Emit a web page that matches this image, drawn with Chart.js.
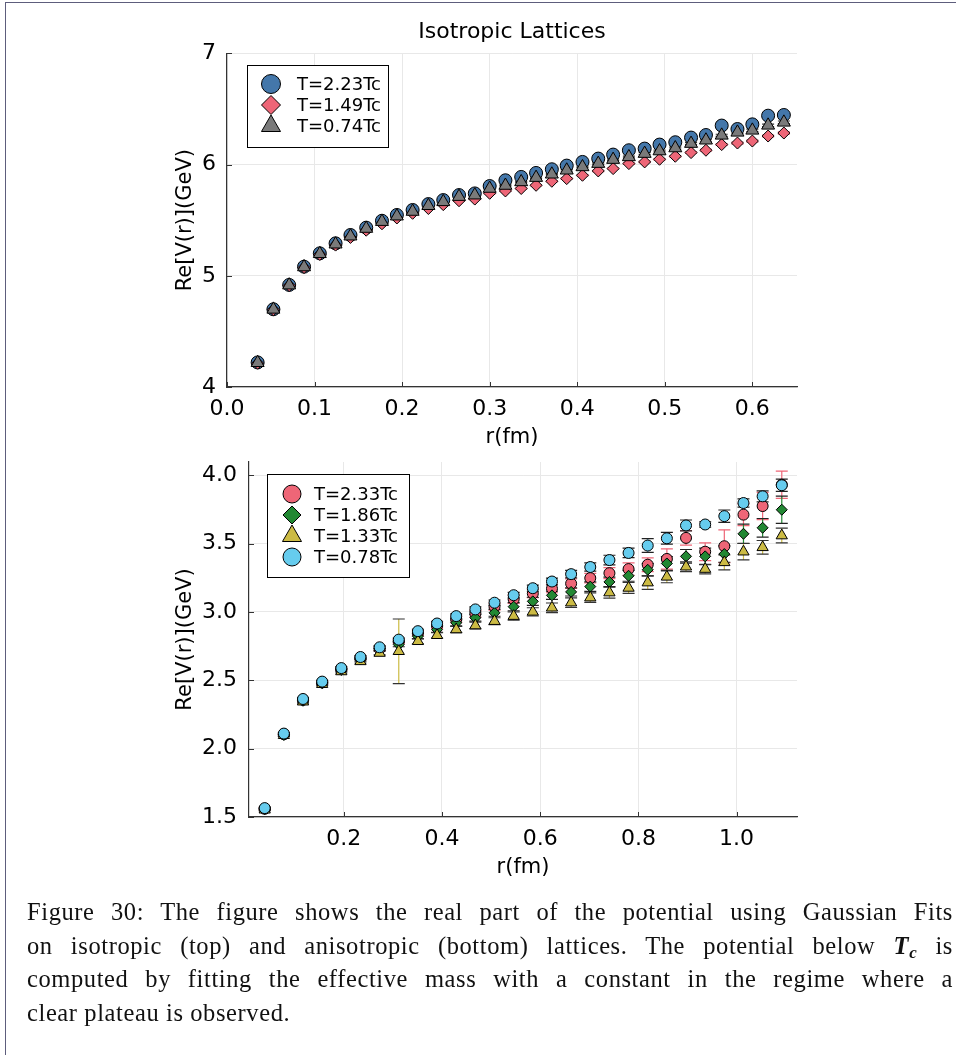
<!DOCTYPE html>
<html>
<head>
<meta charset="utf-8">
<script src="https://cdn.jsdelivr.net/npm/chart.js"></script>
<style>
  html, body { margin: 0; padding: 0; background: #fff; }
  body { width: 956px; height: 1055px; position: relative; overflow: hidden; }
  .frame { position: absolute; left: 5px; top: 2px; width: 960px; height: 1060px;
           border-left: 1px solid #5d5d7c; border-top: 1px solid #5d5d7c; }
  #topChart { position: absolute; left: 0; top: 0; }
  #bottomChart { position: absolute; left: 0; top: 450px; }
  .caption { position: absolute; left: 27px; top: 895px; width: 926px;
             font-family: "Liberation Serif", "DejaVu Serif", serif; font-size: 24.5px;
             letter-spacing: 0.6px; line-height: 33.5px; color: #111; }
  .caption div { white-space: nowrap; height: 33.5px; }
  .caption sub { font-size: 17px; line-height: 0; vertical-align: -4px; }
</style>
</head>
<body>
<div class="frame"></div>
<canvas id="topChart" width="956" height="460"></canvas>
<canvas id="bottomChart" width="956" height="440"></canvas>
<div class="caption">
  <div class="j"><span>Figure 30: The figure shows the real part of the potential using Gaussian Fits</span></div>
  <div class="j"><span>on isotropic (top) and anisotropic (bottom) lattices. The potential below <b><i>T</i><sub><i>c</i></sub></b> is</span></div>
  <div class="j"><span>computed by fitting the effective mass with a constant in the regime where a</span></div>
  <div><span>clear plateau is observed.</span></div>
</div>
<script>
// ---- isotropic lattices ----
const rIso = [0.035, 0.053, 0.071, 0.088, 0.106, 0.124, 0.141, 0.159, 0.177, 0.194,
              0.212, 0.230, 0.247, 0.265, 0.283, 0.300, 0.318, 0.336, 0.353, 0.371,
              0.388, 0.406, 0.424, 0.441, 0.459, 0.477, 0.494, 0.512, 0.530, 0.547,
              0.565, 0.583, 0.600, 0.618, 0.636];
const vIso223 = [4.221, 4.699, 4.918, 5.082, 5.202, 5.292, 5.367, 5.433, 5.495, 5.547,
                 5.592, 5.645, 5.681, 5.726, 5.741, 5.807, 5.859, 5.889, 5.925, 5.958,
                 5.991, 6.024, 6.054, 6.090, 6.129, 6.144, 6.180, 6.201, 6.243, 6.266,
                 6.351, 6.320, 6.362, 6.440, 6.446];
const vIso149 = [4.214, 4.694, 4.912, 5.074, 5.192, 5.276, 5.345, 5.410, 5.468, 5.520,
                 5.562, 5.605, 5.640, 5.675, 5.690, 5.742, 5.763, 5.785, 5.814, 5.850,
                 5.874, 5.904, 5.943, 5.964, 6.009, 6.024, 6.048, 6.075, 6.108, 6.129,
                 6.180, 6.194, 6.212, 6.257, 6.284];
const vIso074 = [4.218, 4.698, 4.916, 5.079, 5.198, 5.284, 5.356, 5.425, 5.487, 5.536,
                 5.578, 5.630, 5.665, 5.712, 5.725, 5.785, 5.812, 5.844, 5.883, 5.913,
                 5.949, 5.979, 6.009, 6.045, 6.069, 6.099, 6.122, 6.149, 6.189, 6.219,
                 6.263, 6.290, 6.308, 6.353, 6.380];
const eIso223 = [0.005, 0.005, 0.005, 0.005, 0.005, 0.005, 0.005, 0.005, 0.005, 0.005,
                 0.005, 0.005, 0.005, 0.006, 0.006, 0.006, 0.006, 0.006, 0.007, 0.007,
                 0.007, 0.008, 0.008, 0.008, 0.009, 0.009, 0.010, 0.010, 0.011, 0.012,
                 0.020, 0.012, 0.013, 0.020, 0.014];
const eIso149 = [0.004, 0.004, 0.004, 0.004, 0.004, 0.004, 0.004, 0.004, 0.004, 0.004,
                 0.004, 0.004, 0.005, 0.005, 0.005, 0.005, 0.005, 0.005, 0.005, 0.006,
                 0.006, 0.006, 0.006, 0.006, 0.007, 0.007, 0.007, 0.007, 0.008, 0.008,
                 0.008, 0.009, 0.009, 0.009, 0.010];
const eIso074 = [0.004, 0.004, 0.004, 0.004, 0.004, 0.004, 0.004, 0.004, 0.005, 0.005,
                 0.005, 0.005, 0.005, 0.005, 0.005, 0.006, 0.006, 0.006, 0.006, 0.006,
                 0.007, 0.007, 0.007, 0.007, 0.008, 0.008, 0.008, 0.009, 0.009, 0.009,
                 0.010, 0.010, 0.011, 0.011, 0.012];
const xTicksIso = [0.0, 0.1, 0.2, 0.3, 0.4, 0.5, 0.6];
const yTicksIso = [4, 5, 6, 7];

// ---- anisotropic lattices ----
const rAniso = [0.039, 0.078, 0.117, 0.156, 0.195, 0.234, 0.273, 0.312, 0.351, 0.390,
                0.429, 0.468, 0.507, 0.546, 0.585, 0.624, 0.663, 0.702, 0.741, 0.780,
                0.819, 0.858, 0.897, 0.936, 0.975, 1.014, 1.053, 1.092];
const vAniso233 = [1.560, 2.105, 2.357, 2.484, 2.582, 2.662, 2.730, 2.786, 2.845, 2.900,
                   2.945, 2.986, 3.038, 3.092, 3.134, 3.170, 3.207, 3.247, 3.283, 3.313,
                   3.345, 3.387, 3.541, 3.440, 3.480, 3.711, 3.774, 3.930];
const vAniso186 = [1.558, 2.100, 2.350, 2.478, 2.575, 2.652, 2.731, 2.761, 2.822, 2.871,
                   2.920, 2.957, 2.993, 3.038, 3.077, 3.121, 3.146, 3.185, 3.219, 3.264,
                   3.308, 3.354, 3.406, 3.406, 3.423, 3.571, 3.615, 3.747];
const vAniso133 = [1.553, 2.098, 2.343, 2.471, 2.564, 2.638, 2.699, 2.712, 2.785, 2.829,
                   2.871, 2.900, 2.932, 2.969, 3.000, 3.030, 3.067, 3.104, 3.141, 3.175,
                   3.214, 3.256, 3.330, 3.313, 3.362, 3.440, 3.472, 3.558];
const vAniso078 = [1.565, 2.110, 2.363, 2.490, 2.589, 2.670, 2.741, 2.797, 2.859, 2.915,
                   2.969, 3.018, 3.067, 3.122, 3.173, 3.222, 3.276, 3.328, 3.379, 3.431,
                   3.485, 3.538, 3.632, 3.639, 3.700, 3.796, 3.845, 3.926];
const eAniso233 = [0.008, 0.008, 0.010, 0.010, 0.010, 0.012, 0.014, 0.016, 0.018, 0.020,
                   0.022, 0.025, 0.025, 0.030, 0.030, 0.030, 0.035, 0.035, 0.040, 0.045,
                   0.050, 0.074, 0.053, 0.065, 0.120, 0.080, 0.100, 0.100];
const eAniso186 = [0.008, 0.008, 0.010, 0.010, 0.010, 0.012, 0.014, 0.016, 0.018, 0.020,
                   0.022, 0.025, 0.025, 0.030, 0.030, 0.030, 0.030, 0.035, 0.035, 0.040,
                   0.045, 0.050, 0.050, 0.060, 0.060, 0.070, 0.068, 0.100];
const eAniso133 = [0.008, 0.008, 0.010, 0.010, 0.010, 0.012, 0.014, 0.236, 0.018, 0.020,
                   0.022, 0.025, 0.025, 0.030, 0.030, 0.035, 0.035, 0.035, 0.040, 0.040,
                   0.050, 0.043, 0.035, 0.035, 0.055, 0.060, 0.050, 0.054];
const eAniso078 = [0.008, 0.008, 0.008, 0.010, 0.010, 0.010, 0.012, 0.012, 0.014, 0.015,
                   0.016, 0.018, 0.020, 0.020, 0.022, 0.025, 0.027, 0.030, 0.035, 0.035,
                   0.050, 0.043, 0.040, 0.020, 0.045, 0.030, 0.040, 0.045];
const xTicksAniso = [0.2, 0.4, 0.6, 0.8, 1.0];
const yTicksAniso = [1.5, 2.0, 2.5, 3.0, 3.5, 4.0];

Chart.defaults.font.family = "DejaVu Sans";
Chart.defaults.color = "#000";

const pts = (xs, ys) => xs.map((x, i) => ({ x: x, y: ys[i] }));

// simple marker drawing, falls back if helpers are missing
function marker(ctx, style, r, x, y) {
  if (Chart.helpers && Chart.helpers.drawPoint) {
    Chart.helpers.drawPoint(ctx, { pointStyle: style, radius: r, rotation: 0, borderWidth: 1 }, x, y);
    return;
  }
  ctx.beginPath();
  ctx.arc(x, y, r, 0, Math.PI * 2);
  ctx.fill(); ctx.stroke();
}

// vertical error bars under the markers
const errorBars = {
  id: 'errorBars',
  beforeDatasetsDraw(chart) {
    const ctx = chart.ctx;
    const xs = chart.scales.x, ys = chart.scales.y;
    const metas = chart.getSortedVisibleDatasetMetas().slice().reverse();
    ctx.save();
    metas.forEach(meta => {
      const ds = chart.data.datasets[meta.index];
      if (!ds.yErr) return;
      ds.data.forEach((p, j) => {
        const e = ds.yErr[j];
        const px = xs.getPixelForValue(p.x);
        const y1 = ys.getPixelForValue(p.y - e);
        const y2 = ys.getPixelForValue(p.y + e);
        ctx.strokeStyle = ds.errColor;
        ctx.lineWidth = 1.2;
        ctx.beginPath();
        ctx.moveTo(px, y1); ctx.lineTo(px, y2);
        ctx.stroke();
        ctx.strokeStyle = ds.capColor;
        ctx.beginPath();
        ctx.moveTo(px - 6, y1); ctx.lineTo(px + 6, y1);
        ctx.moveTo(px - 6, y2); ctx.lineTo(px + 6, y2);
        ctx.stroke();
      });
    });
    ctx.restore();
  }
};

// short tick marks pointing into the plot, plus the boxed legend
const frameAndLegend = {
  id: 'frameAndLegend',
  afterDraw(chart, args, opts) {
    const ctx = chart.ctx;
    const a = chart.chartArea;
    ctx.save();
    ctx.strokeStyle = '#333';
    ctx.lineWidth = 1;
    ctx.beginPath();
    chart.scales.x.ticks.forEach(t => {
      const px = Math.round(chart.scales.x.getPixelForValue(t.value)) + 0.5;
      ctx.moveTo(px, a.bottom); ctx.lineTo(px, a.bottom - 5);
    });
    chart.scales.y.ticks.forEach(t => {
      const py = Math.round(chart.scales.y.getPixelForValue(t.value)) + 0.5;
      ctx.moveTo(a.left, py); ctx.lineTo(a.left + 5, py);
    });
    ctx.stroke();

    ctx.fillStyle = '#fff';
    ctx.fillRect(opts.x, opts.y, opts.w, opts.h);
    ctx.strokeStyle = '#000';
    ctx.strokeRect(opts.x + 0.5, opts.y + 0.5, opts.w, opts.h);
    ctx.font = '18px "DejaVu Sans"';
    ctx.textBaseline = 'middle';
    chart.data.datasets.forEach((ds, i) => {
      const cy = opts.y + opts.first + i * opts.step;
      ctx.fillStyle = ds.pointBackgroundColor;
      ctx.strokeStyle = '#000';
      ctx.lineWidth = 1;
      marker(ctx, ds.pointStyle, ds.legendRadius, opts.x + opts.markX, cy);
      ctx.fillStyle = '#000';
      ctx.fillText(ds.label, opts.x + opts.textX, cy + 1);
    });
    ctx.restore();
  }
};

function series(label, xs, ys, errs, style, color, r, lr, order, capColor) {
  return {
    label: label,
    data: pts(xs, ys),
    yErr: errs,
    errColor: color,
    capColor: capColor,
    pointStyle: style,
    pointRadius: r,
    legendRadius: lr,
    pointBackgroundColor: color,
    pointBorderColor: '#000',
    pointBorderWidth: 1,
    showLine: false,
    order: order
  };
}

function axes(xMin, xMax, xTicks, yMin, yMax, yTicks, yWidth, yPad, fmtY) {
  return {
    x: {
      type: 'linear', min: xMin, max: xMax,
      afterBuildTicks: s => { s.ticks = xTicks.map(v => ({ value: v })); },
      afterFit: s => { s.height = 70; s.paddingLeft = 0; s.paddingRight = 0; },
      ticks: { font: { size: 22 }, padding: 9, maxRotation: 0, autoSkip: false,
               callback: v => v.toFixed(1) },
      grid: { color: '#e8e8e8', drawTicks: false },
      border: { color: '#333', width: 1.2 },
      title: { display: true, text: 'r(fm)', font: { size: 21 }, padding: { top: 0, bottom: 7 } }
    },
    y: {
      type: 'linear', min: yMin, max: yMax,
      afterBuildTicks: s => { s.ticks = yTicks.map(v => ({ value: v })); },
      afterFit: s => { s.width = yWidth; s.paddingTop = 0; s.paddingBottom = 0; },
      ticks: { font: { size: 22 }, padding: yPad, autoSkip: false, callback: fmtY },
      grid: { color: '#e8e8e8', drawTicks: false },
      border: { color: '#333', width: 1.2 },
      title: { display: true, text: 'Re[V(r)](GeV)', font: { size: 21 }, padding: { top: 8, bottom: 0 } }
    }
  };
}

new Chart(document.getElementById('topChart'), {
  type: 'scatter',
  data: {
    datasets: [
      series('T=2.23Tc', rIso, vIso223, eIso223, 'circle', '#4477aa', 6.5, 9.5, 3, '#4477aa'),
      series('T=1.49Tc', rIso, vIso149, eIso149, 'rectRot', '#ee6677', 6, 9.5, 2, '#ee6677'),
      series('T=0.74Tc', rIso, vIso074, eIso074, 'triangle', '#7a7a7a', 7.5, 11, 1, '#333')
    ]
  },
  options: {
    responsive: false,
    animation: false,
    events: [],
    layout: { padding: { left: 165, right: 159, top: 9, bottom: 3 } },
    scales: axes(0, 0.651, xTicksIso, 4, 7, yTicksIso, 62, 11, v => String(v)),
    plugins: {
      legend: { display: false },
      tooltip: { enabled: false },
      title: { display: true, text: 'Isotropic Lattices', fullSize: false,
               font: { size: 22, weight: 'normal' }, padding: { top: 10, bottom: 8 } },
      frameAndLegend: { x: 247, y: 65, w: 141, h: 82, first: 19, step: 21, markX: 24, textX: 50 }
    }
  },
  plugins: [errorBars, frameAndLegend]
});

new Chart(document.getElementById('bottomChart'), {
  type: 'scatter',
  data: {
    datasets: [
      series('T=2.33Tc', rAniso, vAniso233, eAniso233, 'circle', '#ee6677', 5.5, 9, 4, '#ee6677'),
      series('T=1.86Tc', rAniso, vAniso186, eAniso186, 'rectRot', '#228833', 5.5, 9, 3, '#222'),
      series('T=1.33Tc', rAniso, vAniso133, eAniso133, 'triangle', '#ccbb44', 6.5, 11, 2, '#333'),
      series('T=0.78Tc', rAniso, vAniso078, eAniso078, 'circle', '#66ccee', 5.5, 9, 1, '#222')
    ]
  },
  options: {
    responsive: false,
    animation: false,
    events: [],
    layout: { padding: { left: 165, right: 159, top: 12, bottom: 3 } },
    scales: axes(0.007, 1.123, xTicksAniso, 1.5, 4.096, yTicksAniso, 84, 12, v => v.toFixed(1)),
    plugins: {
      legend: { display: false },
      tooltip: { enabled: false },
      frameAndLegend: { x: 267, y: 24, w: 142, h: 103, first: 20, step: 21, markX: 25, textX: 47 }
    }
  },
  plugins: [errorBars, frameAndLegend]
});

// spread the justified caption lines to the full column width
document.querySelectorAll('.caption .j span').forEach(span => {
  const gaps = (span.textContent.match(/ /g) || []).length;
  const w = span.getBoundingClientRect().width;
  span.style.wordSpacing = ((926 - w) / gaps) + 'px';
});
</script>
</body>
</html>
